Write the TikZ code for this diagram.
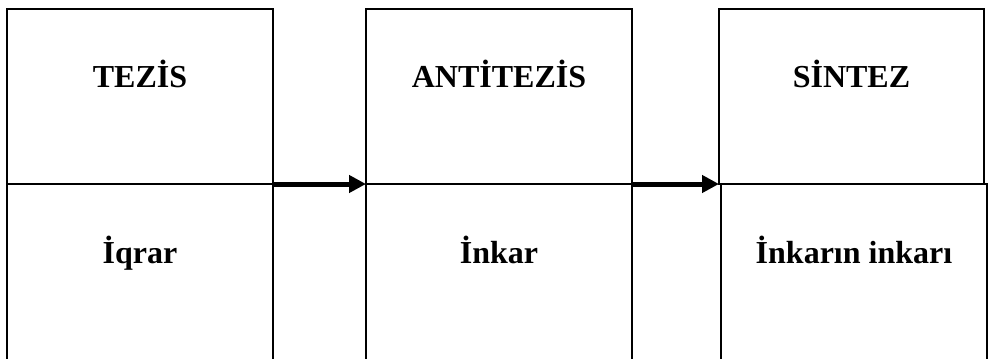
\documentclass[tikz,border=0pt]{standalone}
\usepackage{fontspec}
\setmainfont{Liberation Serif}
\usetikzlibrary{positioning,arrows.meta}

\begin{document}
\begin{tikzpicture}[x=1pt, y=-1pt,
    font=\bfseries\fontsize{32}{38}\selectfont,
    half/.style={draw, line width=1.4pt, rectangle, minimum width=266pt,
                 minimum height=175pt, inner sep=0pt, outer sep=0pt, anchor=north west},
    lbl/.style={anchor=base, inner sep=0pt},
    flow/.style={-{Triangle[length=17pt, width=17pt]}, line width=5pt},
  ]
    \useasboundingbox (0,0) rectangle (989,359);
    \clip (0,0) rectangle (989,359);

    % Upper halves
    \node[half] (tez) at (7,9) {};
    \node[half] (ant) at (366,9) {};
    \node[half, minimum width=265pt] (sin) at (719,9) {};

    % Lower halves (run off the bottom edge)
    \node[half, minimum height=200pt] (iqr) at (7,184) {};
    \node[half, minimum height=200pt] (ink) at (366,184) {};
    \node[half, minimum height=200pt] (inkink) at (721,184) {};

    % Labels
    \node[lbl] (tezT) at ([yshift=-78pt]tez.north) {TEZİS};
    \node[lbl] (antT) at ([yshift=-78pt]ant.north) {ANTİTEZİS};
    \node[lbl] (sinT) at ([yshift=-78pt]sin.north) {SİNTEZ};
    \node[lbl] (iqrT) at ([yshift=-79pt]iqr.north) {İqrar};
    \node[lbl] (inkT) at ([yshift=-79pt]ink.north) {İnkar};
    \node[lbl] (inkinkT) at ([yshift=-79pt]inkink.north) {İnkarın inkarı};

    % Arrows
    \draw[flow] (tez.south east) -- (ant.south west);
    \draw[flow] (ant.south east) -- (sin.south west);
  \end{tikzpicture}
\end{document}
